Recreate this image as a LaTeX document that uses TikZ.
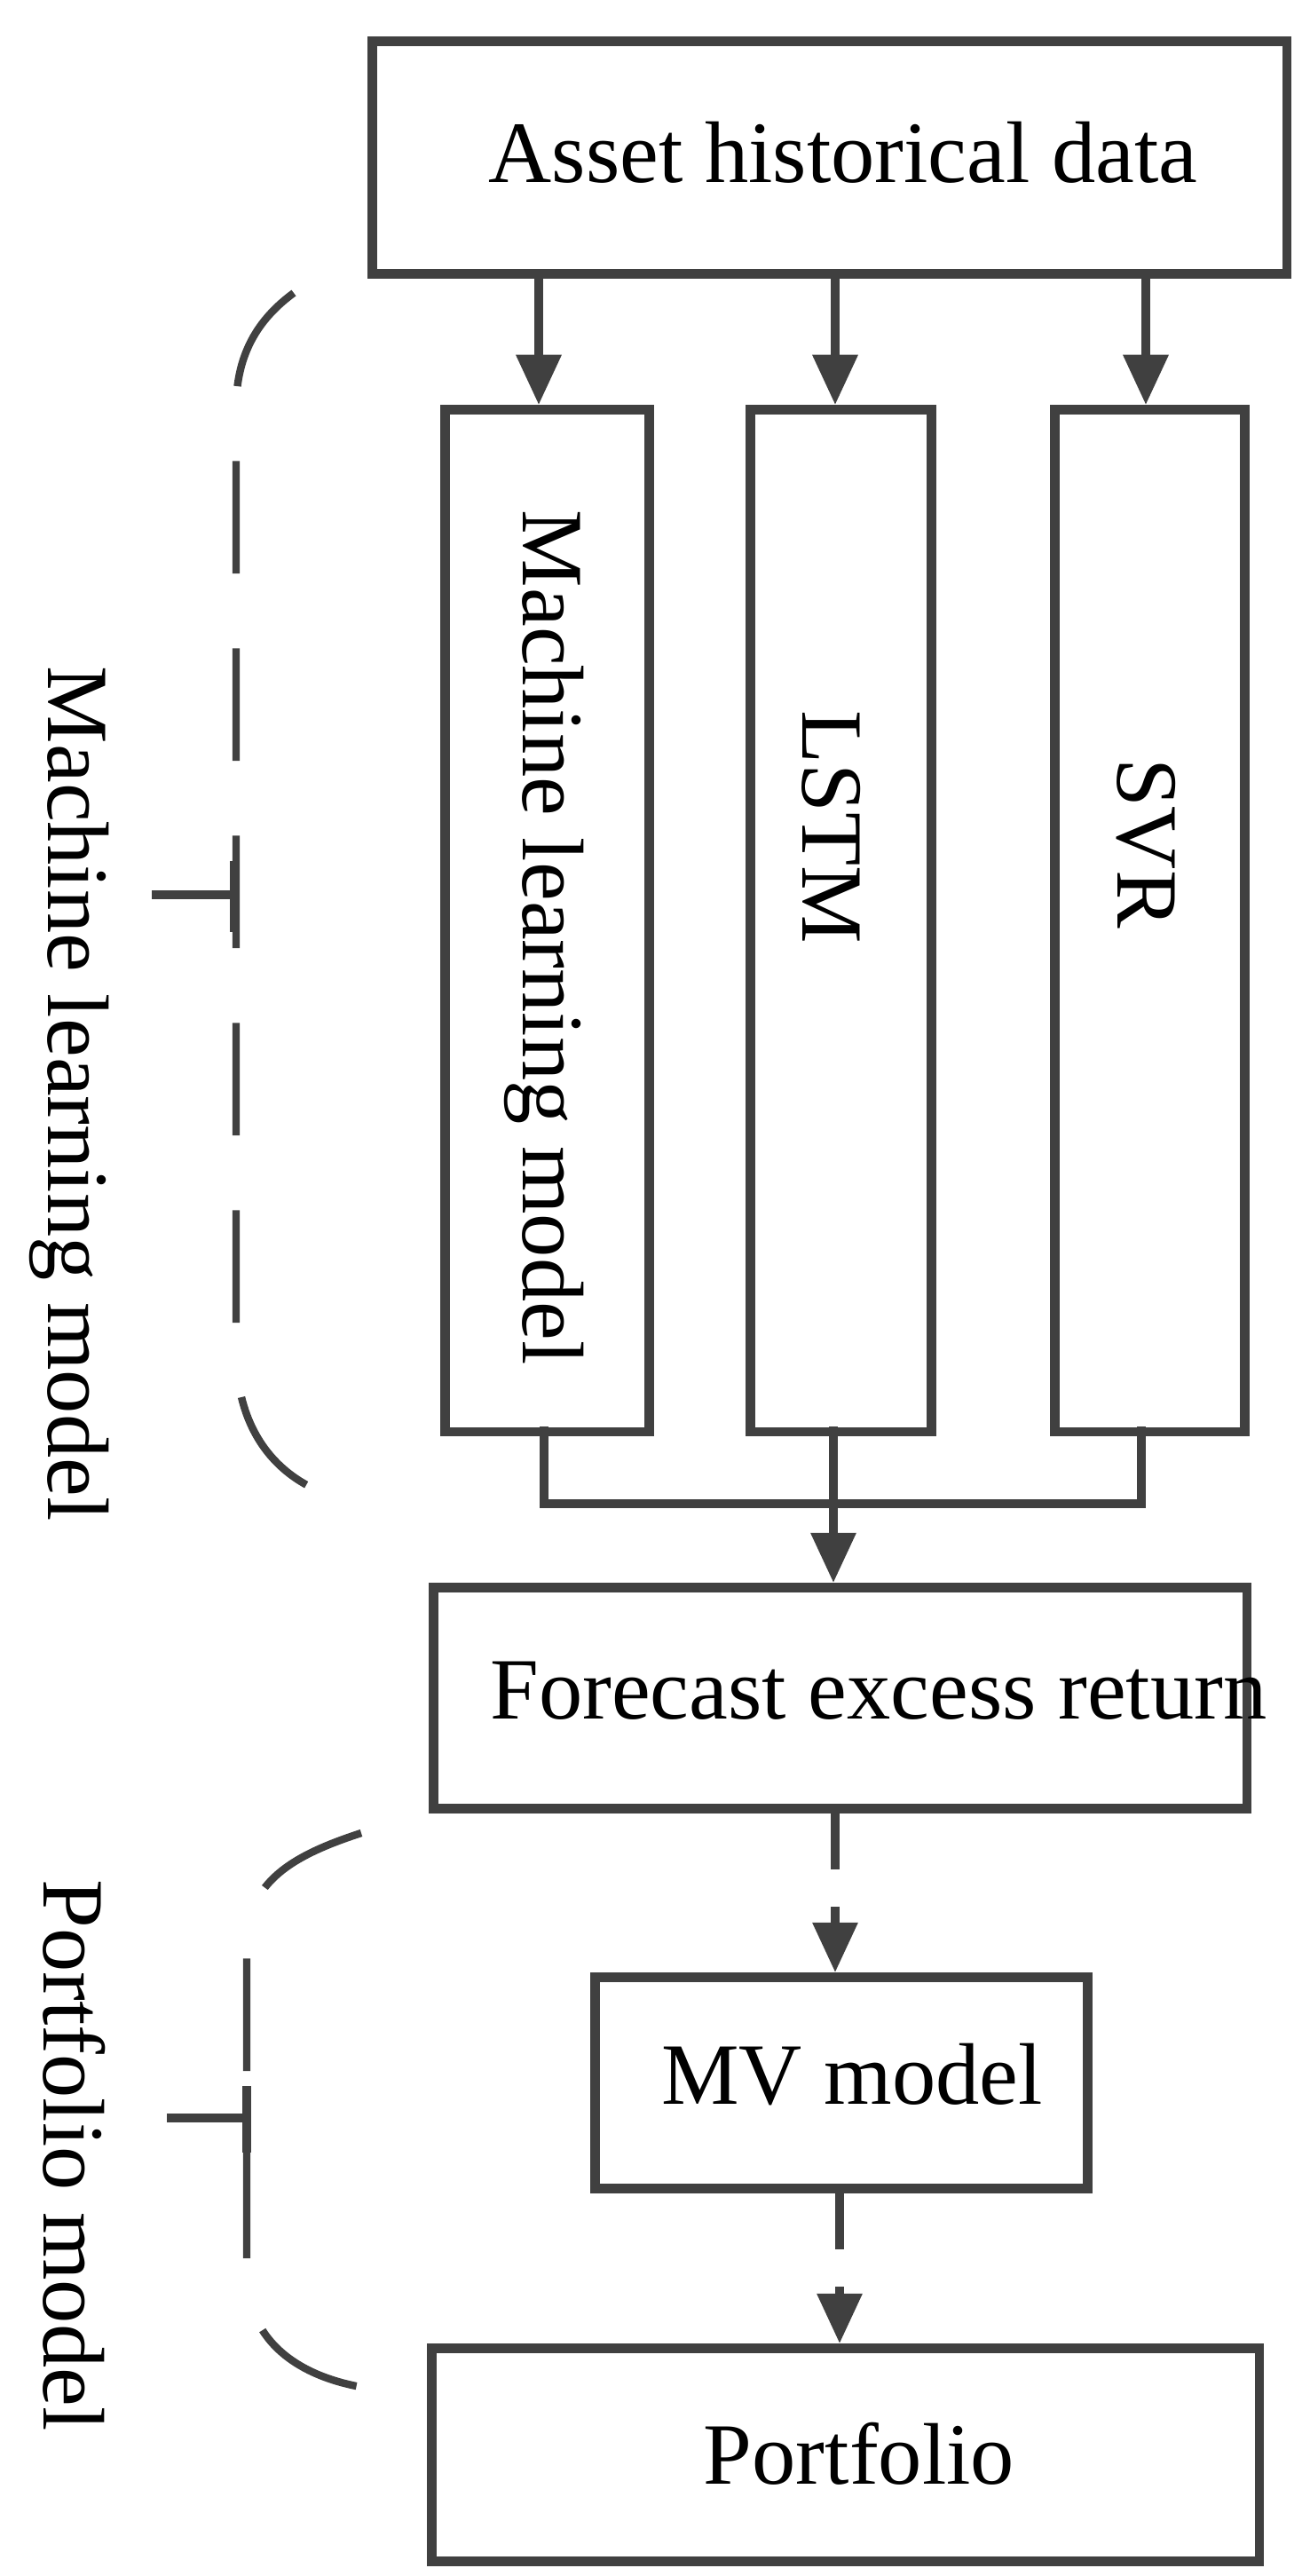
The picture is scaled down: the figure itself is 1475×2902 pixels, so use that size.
\documentclass[tikz,border=0pt]{standalone}
\usepackage{fontspec}
\setmainfont{Liberation Serif}
\usetikzlibrary{arrows.meta}
\begin{document}
\begin{tikzpicture}[x=0.01cm,y=-0.01cm,
  box/.style={draw=black!75,line width=3pt,inner sep=0pt,anchor=north west},
  lbl/.style={font=\fontsize{28}{32}\selectfont},
  ln/.style={draw=black!75,line width=2.6pt},
  arr/.style={ln,-{Triangle[length=16pt,width=14pt]}},
  dsh/.style={ln,dash pattern=on 18pt off 12pt,-{Triangle[length=16pt,width=14pt]}},
  brk/.style={draw=black!75,line width=2.4pt,dash pattern=on 36pt off 24pt}]
\useasboundingbox (0,0) rectangle (1475,2902);
\node[box,minimum width=10.30cm,minimum height=2.62cm] (top) at (414,41) {};
\node[lbl] at (950,172) {Asset historical data};
\node[box,minimum width=2.30cm,minimum height=11.51cm] (ml) at (496,456) {};
\node[box,minimum width=2.04cm,minimum height=11.51cm] (lstm) at (840,456) {};
\node[box,minimum width=2.14cm,minimum height=11.51cm] (svr) at (1183,456) {};
\node[lbl,rotate=-90] at (613,1056) {Machine learning model};
\node[lbl,rotate=-90] at (937,932) {LSTM};
\node[lbl,rotate=-90] at (1291,950) {SVR};
\node[box,minimum width=9.16cm,minimum height=2.49cm] (fc) at (483,1783) {};
\node[lbl,anchor=west] at (540,1905) {Forecast excess return};
\node[box,minimum width=5.55cm,minimum height=2.38cm] (mv) at (665,2222) {};
\node[lbl] at (960,2337) {MV model};
\node[box,minimum width=9.32cm,minimum height=2.40cm] (pf) at (481,2640) {};
\node[lbl] at (968,2764) {Portfolio};
\draw[arr] (607,303) -- (ml.north -| 607,0);
\draw[arr] (941,303) -- (lstm.north -| 941,0);
\draw[arr] (1291,303) -- (svr.north -| 1291,0);
\draw[ln] (613,1607) -- (613,1694) -- (1286,1694) -- (1286,1607);
\draw[arr] (939,1607) -- (fc.north -| 939,0);
\draw[dsh] (fc.south -| 941,0) -- (mv.north -| 941,0);
\draw[dsh] (mv.south -| 946,0) -- (pf.north -| 946,0);
% brackets
\draw[brk] (331,330) .. controls (290,360) and (266,400) .. (266,460) -- (266,1520) .. controls (266,1620) and (320,1675) .. (395,1691);
\draw[ln] (171,1008) -- (264,1008);
\draw[ln] (264,970) -- (264,1050);
\draw[brk] (407,2065) .. controls (330,2090) and (278,2120) .. (278,2190) -- (278,2560) .. controls (278,2640) and (340,2680) .. (419,2691);
\draw[ln] (188,2386) -- (278,2386);
\draw[ln] (278,2350) -- (278,2425);
\node[lbl,rotate=-90] at (78,1232) {Machine learning model};
\node[lbl,rotate=-90] at (84,2428) {Portfolio model};
\end{tikzpicture}
\end{document}
